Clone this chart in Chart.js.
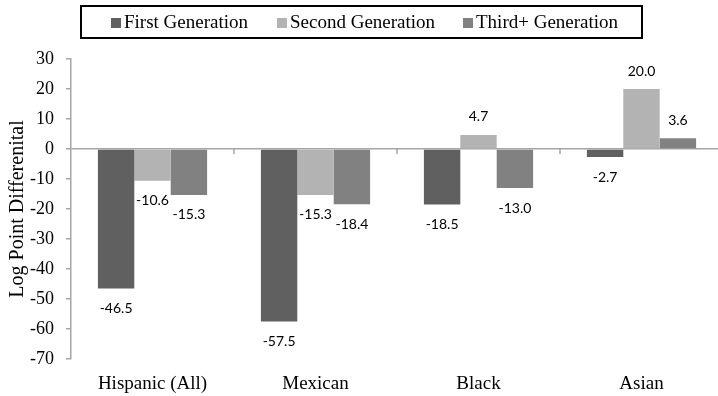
<!DOCTYPE html>
<html><head><meta charset="utf-8">
<script src="https://cdn.jsdelivr.net/npm/chart.js@4"></script>
<style>html,body{margin:0;padding:0;background:#fff;overflow:hidden;width:718px;height:396px}#wrap{width:723px;height:396px;position:relative}</style>
</head><body><div id="wrap"><canvas id="c"></canvas></div>
<script>
const categories = ['Hispanic (All)', 'Mexican', 'Black', 'Asian'];
const seriesNames = ['First Generation', 'Second Generation', 'Third+ Generation'];
const firstGen = [-46.5, -57.5, -18.5, -2.7];
const secondGen = [-10.6, -15.3, 4.7, 20.0];
const thirdGen = [-15.3, -18.4, -13.0, 3.6];
const yTicks = [30, 20, 10, 0, -10, -20, -30, -40, -50, -60, -70];
const colors = ['#606060', '#b3b3b3', '#818181'];
const serif = '"Liberation Serif", "Times New Roman", serif';
const axisGray = '#a6a6a6';

const legendPlugin = {
  id: 'boxLegend',
  afterDraw(chart) {
    const ctx = chart.ctx;
    ctx.save();
    ctx.strokeStyle = '#000';
    ctx.lineWidth = 2;
    ctx.strokeRect(81, 6, 561, 32);
    ctx.font = '19px ' + serif;
    ctx.textBaseline = 'middle';
    ctx.fillStyle = '#000';
    const pos = [111, 277, 463];
    chart.data.datasets.forEach((ds, i) => {
      ctx.fillStyle = ds.backgroundColor;
      ctx.fillRect(pos[i], 18, 10, 10);
      ctx.fillStyle = '#000';
      ctx.fillText(ds.label, pos[i] + 13, 23);
    });
    ctx.restore();
  }
};

const labelPlugin = {
  id: 'valLabels',
  afterDatasetsDraw(chart) {
    const ctx = chart.ctx;
    ctx.save();
    ctx.font = '14px Lato, "Liberation Sans", sans-serif';
    ctx.fillStyle = '#000';
    ctx.textAlign = 'center';
    ctx.textBaseline = 'middle';
    chart.data.datasets.forEach((ds, di) => {
      const meta = chart.getDatasetMeta(di);
      meta.data.forEach((bar, i) => {
        const v = ds.data[i];
        const y = v < 0 ? bar.y + 20 : bar.y - 18;
        ctx.fillText(v.toFixed(1), bar.x, y);
      });
    });
    const xs = chart.scales.x, ys = chart.scales.y;
    const y0 = ys.getPixelForValue(0);
    ctx.strokeStyle = axisGray;
    ctx.lineWidth = 1.5;
    for (let i = 1; i < categories.length; i++) {
      const x = Math.round((xs.getPixelForTick(i - 1) + xs.getPixelForTick(i)) / 2);
      ctx.beginPath();
      ctx.moveTo(x, y0);
      ctx.lineTo(x, y0 + 5);
      ctx.stroke();
    }
    ctx.restore();
  }
};

new Chart(document.getElementById('c'), {
  type: 'bar',
  data: {
    labels: categories,
    datasets: [
      { label: seriesNames[0], data: firstGen, backgroundColor: colors[0] },
      { label: seriesNames[1], data: secondGen, backgroundColor: colors[1] },
      { label: seriesNames[2], data: thirdGen, backgroundColor: colors[2] }
    ]
  },
  options: {
    responsive: true,
    maintainAspectRatio: false,
    animation: false,
    layout: { padding: { top: 59, left: 6, right: 0, bottom: 0 } },
    datasets: { bar: { categoryPercentage: 0.67, barPercentage: 1.0 } },
    plugins: { legend: { display: false }, tooltip: { enabled: false } },
    scales: {
      x: {
        grid: { display: false },
        border: { display: false },
        ticks: { color: '#000', font: { family: serif, size: 19 }, padding: 6, maxRotation: 0 },
        afterFit(s) { s.height = 37; }
      },
      y: {
        min: -70, max: 30,
        afterBuildTicks(s) { s.ticks = yTicks.map(v => ({ value: v })); },
        grid: {
          drawOnChartArea: true,
          color: c => (c.tick && c.tick.value === 0) ? axisGray : 'rgba(0,0,0,0)',
          tickColor: axisGray,
          tickLength: 5,
          lineWidth: 1.5
        },
        border: { display: true, color: axisGray, width: 1.5 },
        ticks: { color: '#000', font: { family: serif, size: 18 }, padding: 12 },
        title: { display: true, text: 'Log Point Differenital', color: '#000', font: { family: serif, size: 20 }, padding: 0 },
        afterFit(s) { s.width = 65; }
      }
    }
  },
  plugins: [legendPlugin, labelPlugin]
});
</script>
</body></html>
